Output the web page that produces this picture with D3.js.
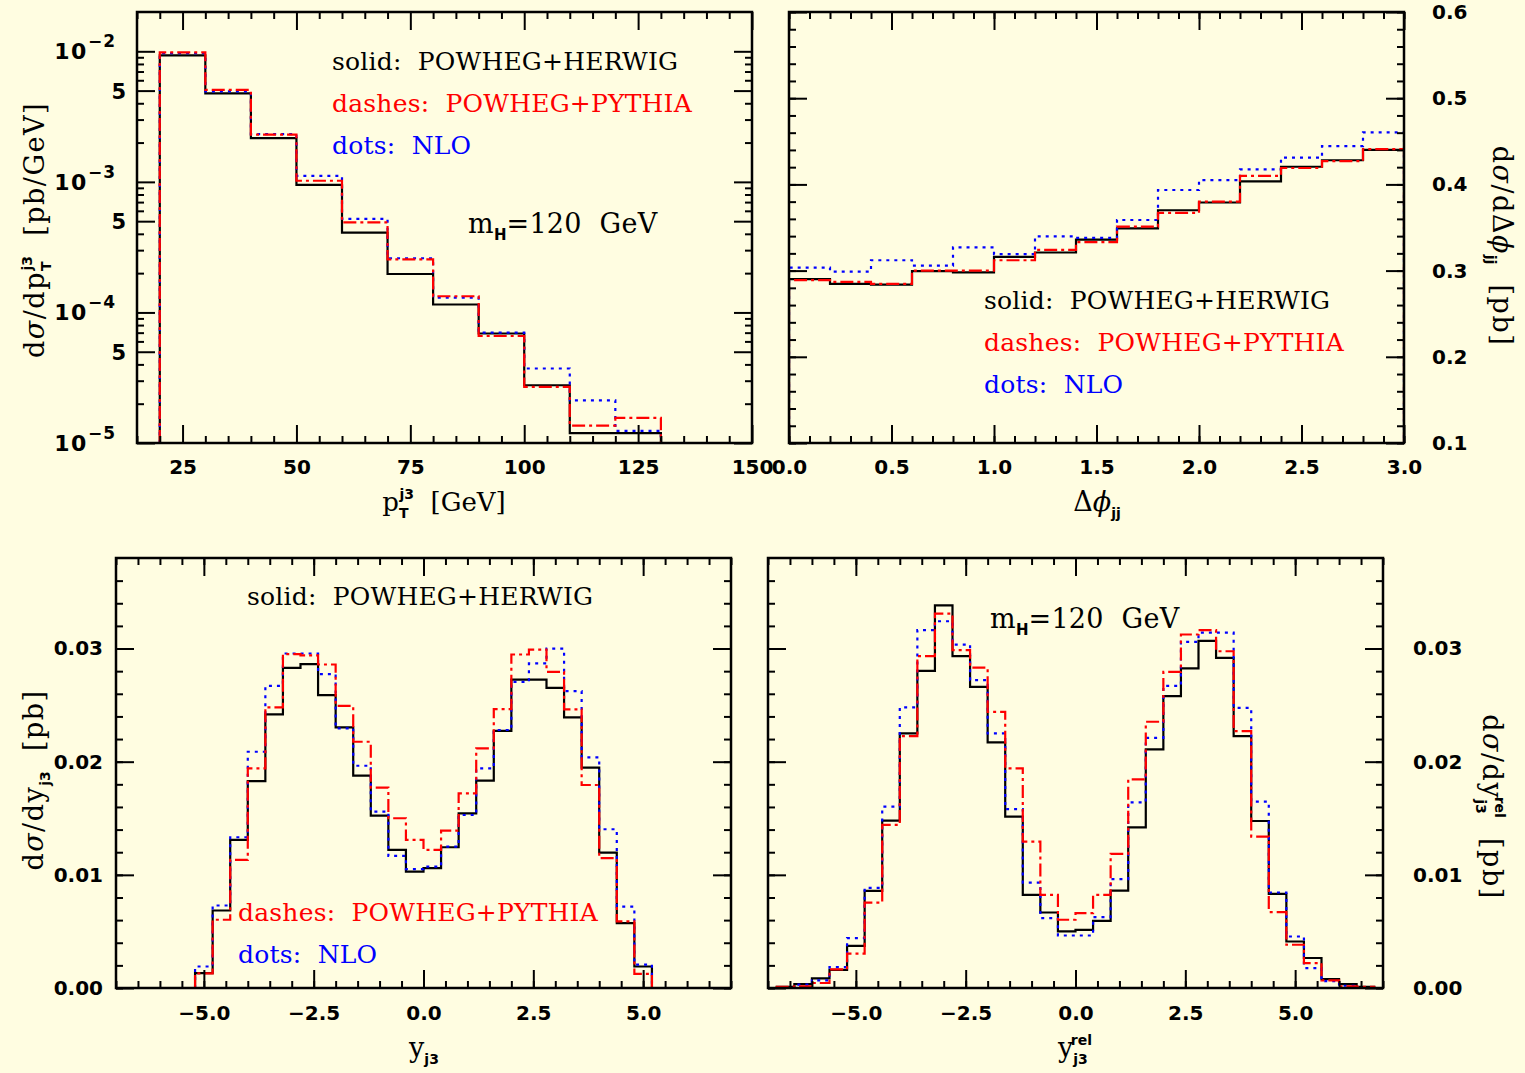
<!DOCTYPE html>
<html>
<head>
<meta charset="utf-8">
<script src="https://cdn.jsdelivr.net/npm/d3@7"></script>
<style>
  body { margin: 0; background: #fffde1; }
  svg { display: block; }
  .tick text { font-family: "DejaVu Sans"; font-weight: bold; font-size: 20px; fill: #000; }
  .tick line { stroke: #000; stroke-width: 2; }
</style>
</head>
<body>
<div id="chart"></div>
<script>
const W = 1525, H = 1073;

// ---- data ----
// p_T of third jet, bins of 10 GeV
const ptEdges = [20, 30, 40, 50, 60, 70, 80, 90, 100, 110, 120, 130];
const ptHerwig = [9.3e-3, 4.77e-3, 2.16e-3, 9.5e-4, 4.08e-4, 1.97e-4, 1.15e-4, 6.9e-5, 2.77e-5, 1.19e-5, 1.19e-5];
const ptPythia = [9.8e-3, 5.06e-3, 2.3e-3, 1.02e-3, 4.9e-4, 2.55e-4, 1.33e-4, 6.6e-5, 2.69e-5, 1.36e-5, 1.56e-5];
const ptNLO    = [9.66e-3, 4.93e-3, 2.32e-3, 1.11e-3, 5.2e-4, 2.6e-4, 1.3e-4, 7.0e-5, 3.72e-5, 2.12e-5, 1.24e-5];

// delta phi_jj, bins of 0.2
const dphiEdges = [0, 0.2, 0.4, 0.6, 0.8, 1.0, 1.2, 1.4, 1.6, 1.8, 2.0, 2.2, 2.4, 2.6, 2.8, 3.0];
const dphiHerwig = [0.290, 0.2845, 0.2837, 0.2995, 0.298, 0.316, 0.321, 0.336, 0.349, 0.370, 0.379, 0.4036, 0.4205, 0.428, 0.440];
const dphiPythia = [0.289, 0.287, 0.2845, 0.300, 0.300, 0.312, 0.324, 0.333, 0.351, 0.367, 0.380, 0.410, 0.419, 0.427, 0.441];
const dphiNLO    = [0.3034, 0.2988, 0.312, 0.3057, 0.327, 0.319, 0.3398, 0.338, 0.3587, 0.3935, 0.405, 0.4175, 0.431, 0.4445, 0.4604];

// rapidity of third jet, bins of 0.4
const yEdges = [-5.2, -4.8, -4.4, -4.0, -3.6, -3.2, -2.8, -2.4, -2.0, -1.6, -1.2, -0.8, -0.4, 0,
                0.4, 0.8, 1.2, 1.6, 2.0, 2.4, 2.8, 3.2, 3.6, 4.0, 4.4, 4.8, 5.2];
const yHerwig = [0.00132, 0.00685, 0.01309, 0.01829, 0.02418, 0.02829, 0.02862, 0.02588, 0.02303, 0.01876, 0.01523, 0.0122, 0.01029,
                 0.01059, 0.01244, 0.01544, 0.01832, 0.02273, 0.02726, 0.02726, 0.02653, 0.02391, 0.01947, 0.01197, 0.00574, 0.0019];
const yPythia = [0.0013, 0.00603, 0.01132, 0.01941, 0.0248, 0.0295, 0.0294, 0.02859, 0.02494, 0.02176, 0.0177, 0.015, 0.01309,
                 0.0122, 0.0139, 0.0172, 0.02118, 0.02465, 0.02947, 0.0299, 0.02794, 0.02462, 0.01794, 0.01147, 0.00588, 0.00124];
const yNLO    = [0.0019, 0.00729, 0.01332, 0.02088, 0.0267, 0.02956, 0.02956, 0.02773, 0.02294, 0.01964, 0.01558, 0.01167, 0.0105,
                 0.01073, 0.0125, 0.01529, 0.0194, 0.0228, 0.02706, 0.02868, 0.03, 0.02623, 0.02038, 0.01403, 0.0072, 0.00206];

// relative rapidity of third jet, bins of 0.4
const yrelEdges = [-6.8, -6.4, -6.0, -5.6, -5.2, -4.8, -4.4, -4.0, -3.6, -3.2, -2.8, -2.4, -2.0, -1.6, -1.2, -0.8, -0.4, 0,
                   0.4, 0.8, 1.2, 1.6, 2.0, 2.4, 2.8, 3.2, 3.6, 4.0, 4.4, 4.8, 5.2, 5.6, 6.0, 6.4, 6.8];
const yrelHerwig = [0.0001, 0.00035, 0.00085, 0.00161, 0.00373, 0.00859, 0.01479, 0.0225, 0.02803, 0.03382, 0.02932, 0.02661, 0.02171, 0.01514, 0.00823, 0.00667, 0.005,
                    0.00514, 0.00594, 0.00861, 0.0142, 0.02109, 0.02579, 0.02824, 0.03067, 0.02917, 0.02226, 0.01476, 0.00832, 0.00411, 0.00265, 0.00079, 0.00035, 0.0001];
const yrelPythia = [0.0001, 0.00015, 0.00044, 0.00165, 0.00303, 0.00755, 0.01441, 0.02226, 0.02932, 0.03309, 0.02985, 0.02832, 0.02441, 0.01941, 0.01294, 0.00823, 0.00603,
                    0.00662, 0.00823, 0.01185, 0.01844, 0.02353, 0.02794, 0.03124, 0.03162, 0.02976, 0.0227, 0.01338, 0.00671, 0.00382, 0.0022, 0.00067, 0.00015, 0.0001];
const yrelNLO    = [0, 0.0003, 0.00067, 0.00185, 0.00441, 0.00885, 0.01603, 0.0248, 0.03162, 0.03241, 0.03035, 0.0272, 0.0225, 0.0158, 0.00932, 0.00618, 0.00464,
                    0.00464, 0.00626, 0.00962, 0.01641, 0.02211, 0.0267, 0.03059, 0.03141, 0.03141, 0.02476, 0.01647, 0.00844, 0.00455, 0.00176, 0.0006, 0.0002, 0];

// tick labels
const ptTicks = [25, 50, 75, 100, 125, 150];
const ptTickLabels = ["25", "50", "75", "100", "125", "150"];
const logTicks = [1e-5, 5e-5, 1e-4, 5e-4, 1e-3, 5e-3, 1e-2];
const dphiTicks = [0, 0.5, 1.0, 1.5, 2.0, 2.5, 3.0];
const dphiTickLabels = ["0.0", "0.5", "1.0", "1.5", "2.0", "2.5", "3.0"];
const dphiYTicks = [0.1, 0.2, 0.3, 0.4, 0.5, 0.6];
const dphiYTickLabels = ["0.1", "0.2", "0.3", "0.4", "0.5", "0.6"];
const rapTicks = [-5, -2.5, 0, 2.5, 5];
const rapTickLabels = ["\u22125.0", "\u22122.5", "0.0", "2.5", "5.0"];
const sigTicks = [0, 0.01, 0.02, 0.03];
const sigTickLabels = ["0.00", "0.01", "0.02", "0.03"];

const styles = {
  herwig: { stroke: "#000", dash: null },
  pythia: { stroke: "#ff0000", dash: "13,4,3,4" },
  nlo:    { stroke: "#0000ff", dash: "3,5" }
};

const svg = d3.select("#chart").append("svg")
  .attr("width", W).attr("height", H)
  .style("background", "#fffde1");

const SERIF = "DejaVu Serif";
const SANS = "DejaVu Sans";

// text with tspans: parts = [{t, size, sans, it, dx, dy, ls}]
function rich(g, x, y, parts, o = {}) {
  const t = g.append("text")
    .attr("x", x).attr("y", y)
    .attr("fill", o.fill || "#000")
    .attr("text-anchor", o.anchor || "start")
    .style("font-family", SERIF)
    .style("font-size", (o.size || 26) + "px")
    .style("white-space", "pre");
  if (o.spacing) t.style("letter-spacing", o.spacing + "px");
  if (o.transform) t.attr("transform", o.transform);
  parts.forEach(p => {
    const s = t.append("tspan").text(p.t);
    if (p.size) s.style("font-size", p.size + "px");
    if (p.sans) s.style("font-family", SANS).style("font-weight", "bold").style("letter-spacing", (p.ls || 0) + "px");
    if (p.it) s.style("font-style", "italic");
    if (p.dx) s.attr("dx", p.dx);
    if (p.dy) s.attr("dy", p.dy);
  });
  return t;
}

let clipId = 0;
function panel(o) {
  const g = svg.append("g");
  const x = d3.scaleLinear().domain(o.xDomain).range([o.left, o.right]);
  const y = (o.log ? d3.scaleLog() : d3.scaleLinear()).domain(o.yDomain).range([o.bottom, o.top]);
  const id = "clip" + (clipId++);
  svg.append("clipPath").attr("id", id).append("rect")
    .attr("x", o.left).attr("y", o.top)
    .attr("width", o.right - o.left).attr("height", o.bottom - o.top);

  const line = d3.line().x(d => x(d[0])).y(d => y(d[1]));
  const base = o.yDomain[0];
  o.series.forEach(s => {
    const pts = [[o.edges[0], base]];
    s.values.forEach((v, i) => {
      pts.push([o.edges[i], Math.max(v, base)], [o.edges[i + 1], Math.max(v, base)]);
    });
    pts.push([o.edges[o.edges.length - 1], base]);
    const st = styles[s.style];
    g.append("path")
      .attr("d", line(pts))
      .attr("clip-path", `url(#${id})`)
      .attr("fill", "none")
      .attr("stroke", st.stroke)
      .attr("stroke-width", 2.2)
      .attr("stroke-dasharray", st.dash);
  });

  // inward ticks on all four sides
  const MAJ = 18, MIN = 7;
  function ticks(axisFn, scale, vals, len, tr) {
    const a = g.append("g").attr("transform", tr)
      .call(axisFn(scale).tickValues(vals).tickSize(-len).tickFormat(""));
    a.select(".domain").remove();
  }
  [[o.xMajor, MAJ], [o.xMinor, MIN]].forEach(([v, l]) => {
    ticks(d3.axisBottom, x, v, l, `translate(0,${o.bottom})`);
    ticks(d3.axisTop, x, v, l, `translate(0,${o.top})`);
  });
  [[o.yMajor, MAJ], [o.yMinor, MIN]].forEach(([v, l]) => {
    ticks(d3.axisLeft, y, v, l, `translate(${o.left},0)`);
    ticks(d3.axisRight, y, v, l, `translate(${o.right},0)`);
  });

  // x tick labels
  const xl = g.append("g").attr("transform", `translate(0,${o.bottom})`)
    .call(d3.axisBottom(x).tickValues(o.xMajorLabeled).tickSize(0).tickPadding(o.xPad)
      .tickFormat((d, i) => o.xLabels[i]));
  xl.select(".domain").remove();

  // y tick labels (linear axes)
  if (o.yLabels) {
    const fn = o.ySide === "right" ? d3.axisRight : d3.axisLeft;
    const yl = g.append("g").attr("transform", `translate(${o.ySide === "right" ? o.right : o.left},0)`)
      .call(fn(y).tickValues(o.yMajorLabeled).tickSize(0).tickPadding(o.yPad)
        .tickFormat((d, i) => o.yLabels[i]));
    yl.select(".domain").remove();
  }

  g.append("rect")
    .attr("x", o.left).attr("y", o.top)
    .attr("width", o.right - o.left).attr("height", o.bottom - o.top)
    .attr("fill", "none").attr("stroke", "#000").attr("stroke-width", 2.5);
  return { g, x, y };
}

function logMinor(lo, hi) {
  const out = [];
  for (let e = lo; e < hi; e++) {
    for (let m = 2; m <= 9; m++) if (m !== 5) out.push(m * Math.pow(10, e));
  }
  return out;
}

const legend = [
  { t: "solid:  POWHEG+HERWIG", fill: "#000" },
  { t: "dashes:  POWHEG+PYTHIA", fill: "#ff0000" },
  { t: "dots:  NLO", fill: "#0000ff" }
];
function legendLine(g, x, y, item) {
  g.append("text").attr("x", x).attr("y", y)
    .attr("fill", item.fill)
    .style("font-family", SERIF).style("font-size", "25px")
    .style("letter-spacing", "0.2px")
    .style("white-space", "pre")
    .text(item.t);
}
function mH(g, x, y) {
  rich(g, x, y, [
    { t: "m" },
    { t: "H", size: 15, sans: true, dy: 7 },
    { t: "=120  GeV", dy: -7 }
  ], { size: 27, spacing: 0.3 });
}

const TITLE = { size: 27, spacing: 1.5 };

// ---- panel 1: pT of third jet (log) ----
const p1 = panel({
  left: 137, right: 752, top: 12, bottom: 443,
  xDomain: [15, 150], yDomain: [1e-5, 0.02], log: true,
  edges: ptEdges,
  series: [
    { values: ptHerwig, style: "herwig" },
    { values: ptNLO, style: "nlo" },
    { values: ptPythia, style: "pythia" }
  ],
  xMajor: ptTicks, xMinor: d3.range(15, 151, 5).filter(v => v % 25 !== 0),
  yMajor: logTicks, yMinor: logMinor(-5, -1).filter(v => v < 0.02),
  xMajorLabeled: ptTicks, xLabels: ptTickLabels, xPad: 17
});
logTicks.forEach(v => {
  const e = Math.round(Math.log10(v));
  if (Math.abs(v - Math.pow(10, e)) < 1e-12) {
    rich(p1.g, 116, p1.y(v) + 8, [
      { t: "10", sans: true, size: 22, ls: 1.5 },
      { t: "\u2212" + (-e), sans: true, size: 17, dy: -12, ls: 1 }
    ], { anchor: "end" });
  } else {
    rich(p1.g, 126, p1.y(v) + 8, [{ t: "5", sans: true, size: 21 }], { anchor: "end" });
  }
});
legend.forEach((it, i) => legendLine(p1.g, 332, 70 + i * 42, it));
mH(p1.g, 468, 233);
rich(p1.g, 444, 511, [
  { t: "p" },
  { t: "T", size: 14, sans: true, dy: 7 },
  { t: "j3", size: 14, sans: true, dx: -9, dy: -19 },
  { t: "  [GeV]", dy: 12 }
], { anchor: "middle" });
rich(p1.g, 0, 0, [
  { t: "d" }, { t: "\u03c3", it: true }, { t: "/dp" },
  { t: "T", size: 14, sans: true, dy: 7 },
  { t: "j3", size: 14, sans: true, dx: -9, dy: -19 },
  { t: "  [pb/GeV]", dy: 12 }
], Object.assign({ anchor: "middle", transform: "translate(44,230) rotate(-90)" }, TITLE));

// ---- panel 2: delta phi_jj ----
const p2 = panel({
  left: 789, right: 1404, top: 12, bottom: 443,
  xDomain: [0, 3], yDomain: [0.1, 0.6],
  edges: dphiEdges,
  series: [
    { values: dphiHerwig, style: "herwig" },
    { values: dphiNLO, style: "nlo" },
    { values: dphiPythia, style: "pythia" }
  ],
  xMajor: dphiTicks, xMinor: d3.range(0, 3.001, 0.1),
  yMajor: dphiYTicks, yMinor: d3.range(0.1, 0.6001, 0.02),
  xMajorLabeled: dphiTicks, xLabels: dphiTickLabels, xPad: 17,
  yMajorLabeled: dphiYTicks, yLabels: dphiYTickLabels, ySide: "right", yPad: 28
});
legend.forEach((it, i) => legendLine(p2.g, 984, 309 + i * 42, it));
rich(p2.g, 1097, 511, [
  { t: "\u0394" }, { t: "\u03d5", it: true },
  { t: "jj", size: 14, sans: true, dy: 7 }
], { anchor: "middle", size: 27 });
rich(p2.g, 0, 0, [
  { t: "d" }, { t: "\u03c3", it: true }, { t: "/d\u0394" }, { t: "\u03d5", it: true },
  { t: "jj", size: 14, sans: true, dy: 7 },
  { t: "  [pb]", dy: -7 }
], Object.assign({ anchor: "middle", transform: "translate(1493,246) rotate(90)" }, TITLE));

// ---- panel 3: y of third jet ----
const p3 = panel({
  left: 116, right: 731, top: 558, bottom: 988,
  xDomain: [-7, 7], yDomain: [0, 0.038],
  edges: yEdges,
  series: [
    { values: yHerwig, style: "herwig" },
    { values: yNLO, style: "nlo" },
    { values: yPythia, style: "pythia" }
  ],
  xMajor: rapTicks, xMinor: d3.range(-7, 7.001, 0.5),
  yMajor: sigTicks, yMinor: d3.range(0, 0.038, 0.002),
  xMajorLabeled: rapTicks, xLabels: rapTickLabels, xPad: 18,
  yMajorLabeled: sigTicks, yLabels: sigTickLabels, ySide: "left", yPad: 13
});
legendLine(p3.g, 247, 605, legend[0]);
legendLine(p3.g, 238, 921, legend[1]);
legendLine(p3.g, 238, 963, legend[2]);
rich(p3.g, 424, 1057, [
  { t: "y" },
  { t: "j3", size: 14, sans: true, dy: 7 }
], { anchor: "middle", size: 27 });
rich(p3.g, 0, 0, [
  { t: "d" }, { t: "\u03c3", it: true }, { t: "/dy" },
  { t: "j3", size: 14, sans: true, dy: 7 },
  { t: "  [pb]", dy: -7 }
], Object.assign({ anchor: "middle", transform: "translate(43,780) rotate(-90)" }, TITLE));

// ---- panel 4: relative rapidity of third jet ----
const p4 = panel({
  left: 768, right: 1383, top: 558, bottom: 988,
  xDomain: [-7, 7], yDomain: [0, 0.038],
  edges: yrelEdges,
  series: [
    { values: yrelHerwig, style: "herwig" },
    { values: yrelNLO, style: "nlo" },
    { values: yrelPythia, style: "pythia" }
  ],
  xMajor: rapTicks, xMinor: d3.range(-7, 7.001, 0.5),
  yMajor: sigTicks, yMinor: d3.range(0, 0.038, 0.002),
  xMajorLabeled: rapTicks, xLabels: rapTickLabels, xPad: 18,
  yMajorLabeled: sigTicks, yLabels: sigTickLabels, ySide: "right", yPad: 30
});
mH(p4.g, 990, 628);
rich(p4.g, 1075, 1057, [
  { t: "y" },
  { t: "j3", size: 14, sans: true, dy: 7 },
  { t: "rel", size: 14, sans: true, dx: -17, dy: -19 }
], { anchor: "middle", size: 27 });
rich(p4.g, 0, 0, [
  { t: "d" }, { t: "\u03c3", it: true }, { t: "/dy" },
  { t: "j3", size: 14, sans: true, dy: 7 },
  { t: "rel", size: 14, sans: true, dx: -17, dy: -19 },
  { t: "  [pb]", dy: 12 }
], Object.assign({ anchor: "middle", transform: "translate(1483,807) rotate(90)" }, TITLE));
</script>
</body>
</html>
